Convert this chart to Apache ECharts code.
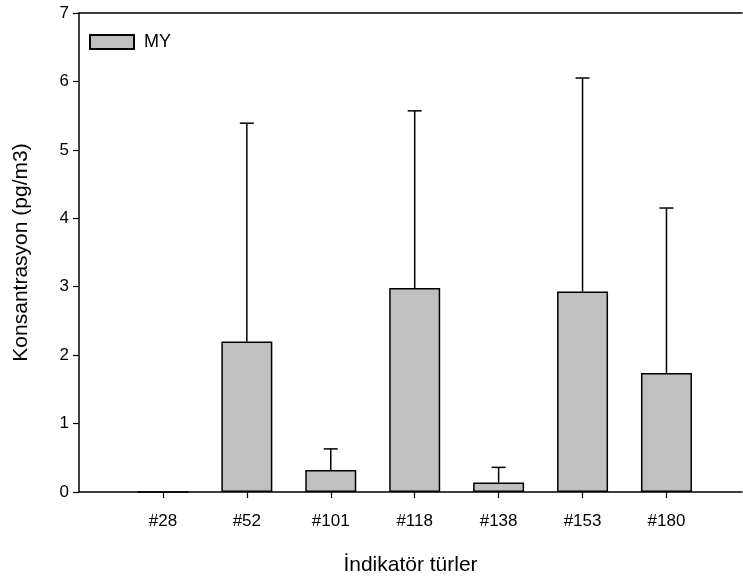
<!DOCTYPE html>
<html>
<head>
<meta charset="utf-8">
<script src="https://cdn.jsdelivr.net/npm/echarts@6/dist/echarts.min.js"></script>
<style>
  html, body { margin: 0; padding: 0; background: #fff; }
  #chart { width: 743px; height: 581px; }
</style>
</head>
<body>
<div id="chart"></div>
<script>
// Indicator PCB congeners and their mean concentrations with upper error
const categories = ['#28', '#52', '#101', '#118', '#138', '#153', '#180'];
const meanValues = [0, 2.20, 0.32, 2.98, 0.14, 2.93, 1.74];
const upperValues = [0, 5.39, 0.63, 5.57, 0.36, 6.05, 4.15];
const yTicks = [0, 1, 2, 3, 4, 5, 6, 7];

const FONT = '"Liberation Sans", Arial, sans-serif';

const barData = categories.map((c, i) => [i + 1, meanValues[i]]);
const errData = categories.map((c, i) => [i + 1, meanValues[i], upperValues[i]]);

const chart = echarts.init(document.getElementById('chart'), null, { renderer: 'canvas' });

chart.setOption({
  animation: false,
  backgroundColor: '#ffffff',
  textStyle: { fontFamily: FONT },
  grid: { left: 79, top: 13, right: 1, bottom: 87.5, containLabel: false },
  legend: {
    left: 89, top: 33, padding: 0,
    itemWidth: 44, itemHeight: 14, itemGap: 10,
    icon: 'rect',
    data: ['MY'],
    textStyle: { fontFamily: FONT, fontSize: 18, color: '#000', padding: [0, 0, 0, 5] }
  },
  xAxis: [{
    type: 'value',
    min: 0, max: 7.9, interval: 1,
    name: 'İndikatör türler',
    nameLocation: 'middle',
    nameGap: 63,
    nameTextStyle: { fontFamily: FONT, fontSize: 21, color: '#000' },
    axisLine: { show: true, lineStyle: { color: '#000', width: 1.5 } },
    axisTick: { show: true, length: 6, lineStyle: { color: '#000', width: 1.2 } },
    axisLabel: {
      margin: 21, fontSize: 17, color: '#000', fontFamily: FONT,
      showMaxLabel: false, showMinLabel: false,
      formatter: v => (v >= 1 && v <= categories.length && Number.isInteger(v)) ? categories[v - 1] : ''
    },
    splitLine: { show: false }
  }, {
    type: 'value', position: 'top',
    min: 0, max: 7.9,
    axisLine: { show: true, lineStyle: { color: '#000', width: 1.5 } },
    axisTick: { show: false }, axisLabel: { show: false }, splitLine: { show: false }
  }],
  yAxis: {
    type: 'value',
    min: yTicks[0], max: yTicks[yTicks.length - 1], interval: 1,
    name: 'Konsantrasyon (pg/m3)',
    nameLocation: 'middle',
    nameGap: 47,
    nameTextStyle: { fontFamily: FONT, fontSize: 21, color: '#000' },
    axisLine: { show: true, lineStyle: { color: '#000', width: 1.5 } },
    axisTick: { show: true, length: 6, lineStyle: { color: '#000', width: 1.2 } },
    axisLabel: { margin: 10, fontSize: 17, color: '#000', fontFamily: FONT },
    splitLine: { show: false }
  },
  series: [{
    name: 'MY',
    type: 'bar',
    barWidth: 51,
    data: barData,
    itemStyle: { color: '#c0c0c0', borderColor: '#000', borderWidth: 1.5 },
    z: 2
  }, {
    name: 'err',
    type: 'custom',
    data: errData,
    z: 1,
    renderItem: function (params, api) {
      const x = api.value(0), lo = api.value(1), hi = api.value(2);
      if (hi <= lo) return null;
      const pLo = api.coord([x, lo]);
      const pHi = api.coord([x, hi]);
      const half = 7;
      return {
        type: 'group',
        children: [{
          type: 'line',
          shape: { x1: pLo[0], y1: pLo[1], x2: pHi[0], y2: pHi[1] },
          style: { stroke: '#000', lineWidth: 1.5 }
        }, {
          type: 'line',
          shape: { x1: pHi[0] - half, y1: pHi[1], x2: pHi[0] + half, y2: pHi[1] },
          style: { stroke: '#000', lineWidth: 1.5 }
        }]
      };
    }
  }]
});
</script>
</body>
</html>
